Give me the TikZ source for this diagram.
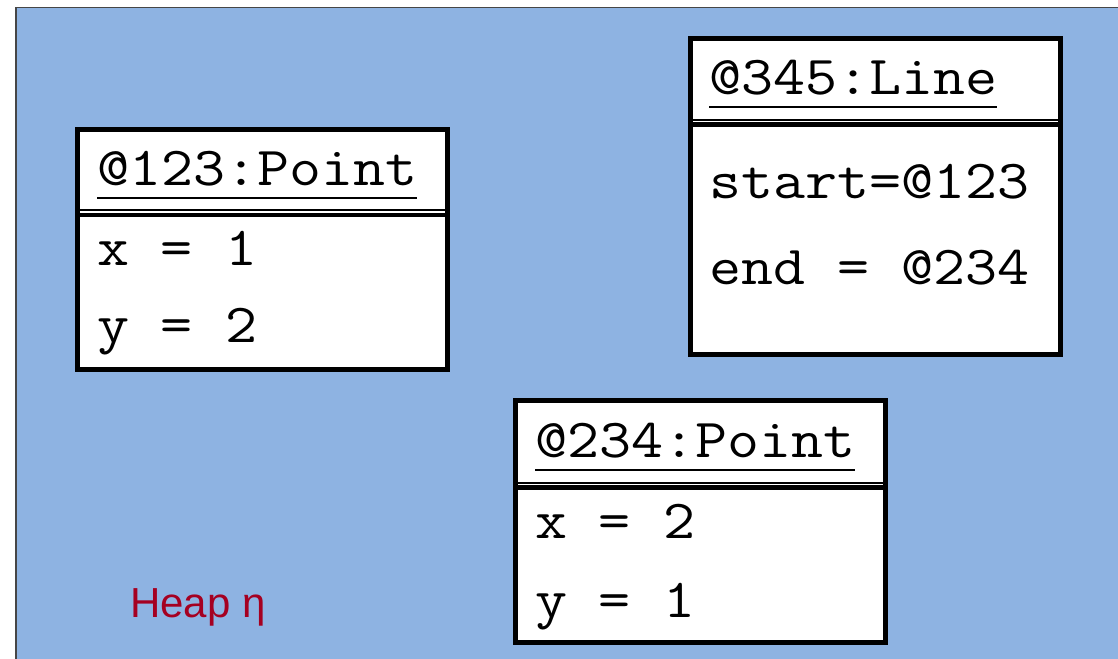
\documentclass[tikz,border=0pt]{standalone}
\usepackage{fontspec}
\usepackage{graphicx}
\setmainfont{Liberation Sans}
\definecolor{heapbg}{RGB}{142,179,226}
\definecolor{heapred}{RGB}{165,0,33}
\definecolor{frame}{RGB}{70,70,70}
\newcommand{\mytt}[1]{\scalebox{1.13}[1]{\ttfamily\fontsize{55}{60}\selectfont #1}}
\begin{document}
\begin{tikzpicture}[x=1pt,y=-1pt,
  objbox/.style={draw=black, line width=5pt, fill=white, anchor=north west, inner sep=0pt, outer sep=0pt, minimum width=370pt},
  mono/.style={anchor=base west, inner sep=0pt, outer sep=0pt},
  thinrule/.style={line width=1.5pt, black},
  thickrule/.style={line width=4.5pt, black},
  uline/.style={line width=1.5pt, black},
  heaplabel/.style={font=\fontsize{42}{48}\selectfont, text=heapred, anchor=base west, inner sep=0pt}
]
\useasboundingbox (0,0) rectangle (1118,658);
\fill[heapbg, draw=frame, line width=1.5pt] (16,7.5) rectangle (1130,670);

% box 1
\node[objbox, minimum height=240pt] (b1) at (77.5,129.5) {};
\draw[thinrule] (b1.west |- 0,210) -- (b1.east |- 0,210);
\draw[thickrule] (b1.west |- 0,215) -- (b1.east |- 0,215);
\node[mono] (t1) at (97,185) {\mytt{@123:Point}};
\draw[uline] ([yshift=-13pt]t1.base west) -- ([yshift=-13pt]t1.base east);
\node[mono] (x1) at (97,265) {\mytt{x = 1}};
\node[mono] (y1) at (97,342) {\mytt{y = 2}};

% box 2
\node[objbox, minimum height=316pt] (b2) at (690.5,38.5) {};
\draw[thinrule] (b2.west |- 0,120) -- (b2.east |- 0,120);
\draw[thickrule] (b2.west |- 0,124.5) -- (b2.east |- 0,124.5);
\node[mono] (t2) at (709,95) {\mytt{@345:Line}};
\draw[uline] ([yshift=-12pt]t2.base west) -- ([yshift=-12pt]t2.base east);
\node[mono] (s2) at (709,198) {\mytt{start=@123}};
\node[mono] (e2) at (709,284) {\mytt{end = @234}};

% box 3
\node[objbox, minimum height=242pt] (b3) at (515.5,400.5) {};
\draw[thinrule] (b3.west |- 0,483) -- (b3.east |- 0,483);
\draw[thickrule] (b3.west |- 0,487.5) -- (b3.east |- 0,487.5);
\node[mono] (t3) at (535,457) {\mytt{@234:Point}};
\draw[uline] ([yshift=-13pt]t3.base west) -- ([yshift=-13pt]t3.base east);
\node[mono] (x3) at (535,538) {\mytt{x = 2}};
\node[mono] (y3) at (535,617) {\mytt{y = 1}};

\node[heaplabel] (heap) at (130,617) {Heap η};
\end{tikzpicture}
\end{document}
